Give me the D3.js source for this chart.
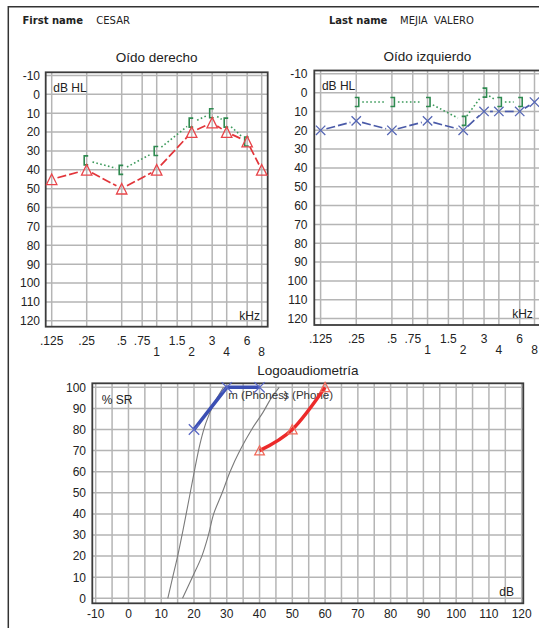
<!DOCTYPE html>
<html>
<head>
<meta charset="utf-8">
<script src="https://cdn.jsdelivr.net/npm/d3@7"></script>
<style>
  body { margin: 0; background: #fff; }
  svg { display: block; }
</style>
</head>
<body>
<div id="chart"></div>
<script>
// ── Data ─────────────────────────────────────────────────────────────────
const freqs = [0.125, 0.25, 0.5, 0.75, 1, 1.5, 2, 3, 4, 6, 8]
const freqLabels = ['.125', '.25', '.5', '.75', '1', '1.5', '2', '3', '4', '6', '8']
const freqLowRow = [0, 0, 0, 0, 1, 0, 1, 0, 1, 0, 1]
const dbTicks = [-10, 0, 10, 20, 30, 40, 50, 60, 70, 80, 90, 100, 110, 120]

// [kHz, dB HL]
const rightAir = [[0.125, 45], [0.25, 40], [0.5, 50], [1, 40], [2, 20], [3, 15], [4, 20], [6, 25], [8, 40]]
const rightBone = [[0.25, 35], [0.5, 40], [1, 30], [2, 15], [3, 10], [4, 15], [6, 25]]
const leftAir = [[0.125, 20], [0.25, 15], [0.5, 20], [1, 15], [2, 20], [3, 10], [4, 10], [6, 10], [8, 5]]
const leftBone = [[0.25, 5], [0.5, 5], [1, 5], [2, 15], [3, 0], [4, 5], [6, 5]]

// speech audiometry [dB, % SR]
const srTicks = [0, 10, 20, 30, 40, 50, 60, 70, 80, 90, 100]
const speechDbTicks = [-10, 0, 10, 20, 30, 40, 50, 60, 70, 80, 90, 100, 110, 120]
const speechLeft = [[20, 80], [30, 100], [40, 100]]
const speechRight = [[40, 70], [50, 80], [60, 100]]
const normalPhones = [[12, 0], [13.5, 10], [15, 20], [16.6, 32], [18.6, 48], [20.2, 61], [21.8, 73], [23.6, 83], [26, 92], [29, 100]]
const normalPhone = [[16.5, 0], [19.5, 10], [22.4, 20], [24.4, 30], [26, 40], [28.6, 50], [31, 60], [34, 70], [37.6, 80], [41, 88], [43.6, 95], [46, 100]]

// ── Setup ────────────────────────────────────────────────────────────────
const W = 539, H = 628
const FONT = '"Liberation Sans", Arial, sans-serif'
const GRID = '#b5b5b5'
const FRAME = '#3c3c3c'
const TXT = '#222'

const svg = d3.select('#chart').append('svg')
  .attr('width', W).attr('height', H)
  .attr('viewBox', `0 0 ${W} ${H}`)

// page border
svg.append('path').attr('d', `M8.3,${H} L8.3,6.8 L${W},6.8`)
  .attr('fill', 'none').attr('stroke', '#333').attr('stroke-width', 1.5)

// header
const hdr = svg.append('g').style('font-family', '"DejaVu Sans", Verdana, sans-serif').style('font-size', '10px')
  .attr('fill', TXT)
hdr.append('text').attr('x', 22.5).attr('y', 24).style('font-weight', 'bold').text('First name')
hdr.append('text').attr('x', 96.3).attr('y', 24).text('CESAR')
hdr.append('text').attr('x', 329).attr('y', 24).style('font-weight', 'bold').text('Last name')
hdr.append('text').attr('x', 400).attr('y', 24).text('MEJIA\u00a0 VALERO')

// shorten a segment by r px on both ends
function shortSeg(x1, y1, x2, y2, r) {
  const dx = x2 - x1, dy = y2 - y1, L = Math.hypot(dx, dy)
  if (L <= 2 * r) return null
  const ux = dx / L, uy = dy / L
  return [x1 + ux * r, y1 + uy * r, x2 - ux * r, y2 - uy * r]
}

// ── Audiogram ────────────────────────────────────────────────────────────
function audiogram(cfg) {
  const g = svg.append('g').style('font-family', FONT)
  const x = d3.scaleLog().base(2).domain([0.125, 8]).range(cfg.xr)
  const y = d3.scaleLinear().domain([-10, 120]).range(cfg.yr)

  g.append('text').attr('x', (cfg.fx0 + cfg.fx1) / 2).attr('y', cfg.titleY)
    .attr('text-anchor', 'middle').style('font-size', '13.5px').attr('fill', TXT).text(cfg.title)

  // grid
  g.selectAll('.vg').data(freqs).join('line')
    .attr('x1', d => x(d)).attr('x2', d => x(d))
    .attr('y1', cfg.fy0).attr('y2', cfg.fy1)
    .attr('stroke', GRID).attr('stroke-width', 1.5)
  g.selectAll('.hg').data(dbTicks).join('line')
    .attr('x1', cfg.fx0).attr('x2', cfg.fx1)
    .attr('y1', d => y(d)).attr('y2', d => y(d))
    .attr('stroke', GRID).attr('stroke-width', 1.5)

  g.append('rect').attr('x', cfg.fx0).attr('y', cfg.fy0)
    .attr('width', cfg.fx1 - cfg.fx0).attr('height', cfg.fy1 - cfg.fy0)
    .attr('fill', 'none').attr('stroke', FRAME).attr('stroke-width', 1.8)

  // tick labels
  g.selectAll('.yl').data(dbTicks).join('text')
    .attr('x', cfg.labelX).attr('y', d => y(d)).attr('dy', '0.36em')
    .attr('text-anchor', 'end').style('font-size', '12px').attr('fill', TXT)
    .text(d => d)
  g.selectAll('.xl').data(freqs).join('text')
    .attr('x', d => x(d))
    .attr('y', (d, i) => cfg.fy1 + (freqLowRow[i] ? 29.3 : 18.3))
    .attr('text-anchor', 'middle').style('font-size', '12px').attr('fill', TXT)
    .text((d, i) => freqLabels[i])

  g.append('text').attr('x', cfg.fx0 + 7.6).attr('y', cfg.fy0 + 19.7)
    .style('font-size', '12px').attr('fill', TXT).text('dB HL')
  g.append('text').attr('x', cfg.fx1 - 7.7).attr('y', cfg.fy1 - 6.7)
    .attr('text-anchor', 'end').style('font-size', '12px').attr('fill', TXT).text('kHz')

  // bone conduction: dotted line + brackets
  const bone = cfg.bone
  for (let i = 0; i < bone.length - 1; i++) {
    const s = shortSeg(x(bone[i][0]), y(bone[i][1]), x(bone[i + 1][0]), y(bone[i + 1][1]), 6)
    if (!s) continue
    g.append('line').attr('x1', s[0]).attr('y1', s[1]).attr('x2', s[2]).attr('y2', s[3])
      .attr('stroke', '#3d9a5c').attr('stroke-width', 1.6).attr('stroke-dasharray', '1.6,2.4')
  }
  const side = cfg.boneSide // -1 = "[" (right ear), +1 = "]" (left ear)
  g.selectAll('.br').data(bone).join('path')
    .attr('d', d => {
      const cx = x(d[0]), cy = y(d[1])
      const vx = cx + side * 2.5, ax = cx - side * 1.5
      return `M${ax},${cy - 4.5} L${vx},${cy - 4.5} L${vx},${cy + 4.5} L${ax},${cy + 4.5}`
    })
    .attr('fill', 'none').attr('stroke', '#2f8a50').attr('stroke-width', 1.6)

  // air conduction: dashed line + markers
  const air = cfg.air
  for (let i = 0; i < air.length - 1; i++) {
    const s = shortSeg(x(air[i][0]), y(air[i][1]), x(air[i + 1][0]), y(air[i + 1][1]), 6)
    if (!s) continue
    g.append('line').attr('x1', s[0]).attr('y1', s[1]).attr('x2', s[2]).attr('y2', s[3])
      .attr('stroke', cfg.color).attr('stroke-width', 1.7).attr('stroke-dasharray', '9,3')
  }
  g.selectAll('.mk').data(air).join('path')
    .attr('d', d => {
      const cx = x(d[0]), cy = y(d[1])
      if (cfg.marker === 'tri') return `M${cx},${cy - 5.3} L${cx + 5.2},${cy + 5.3} L${cx - 5.2},${cy + 5.3} Z`
      return `M${cx - 4.7},${cy - 4.7} L${cx + 4.7},${cy + 4.7} M${cx - 4.7},${cy + 4.7} L${cx + 4.7},${cy - 4.7}`
    })
    .attr('fill', 'none').attr('stroke', cfg.markColor).attr('stroke-width', 1.3)
}

audiogram({
  title: 'Oído derecho', titleY: 62,
  fx0: 45.7, fx1: 267.7, fy0: 72.3, fy1: 326.7,
  xr: [51.7, 261.7], yr: [75.5, 320.8], labelX: 40,
  air: rightAir, bone: rightBone, boneSide: -1,
  color: '#e2353a', markColor: '#e8454a', marker: 'tri'
})
audiogram({
  title: 'Oído izquierdo', titleY: 61,
  fx0: 314.3, fx1: 540.5, fy0: 70.5, fy1: 325,
  xr: [320.6, 534.5], yr: [73.8, 318.6], labelX: 307.5,
  air: leftAir, bone: leftBone, boneSide: 1,
  color: '#4a5aa8', markColor: '#5566b4', marker: 'x'
})

// ── Logoaudiometría ──────────────────────────────────────────────────────
{
  const g = svg.append('g').style('font-family', FONT)
  const fx0 = 92.3, fx1 = 523.3, fy0 = 383.3, fy1 = 603.3
  const x = d3.scaleLinear().domain([-10, 120]).range([95.7, 521.7])
  const y = d3.scaleLinear().domain([0, 100]).range([598.3, 387.3])

  g.append('text').attr('x', (fx0 + fx1) / 2).attr('y', 374.5)
    .attr('text-anchor', 'middle').style('font-size', '13.5px').attr('fill', TXT).text('Logoaudiometría')

  g.selectAll('.vg').data(d3.range(-10, 121, 5)).join('line')
    .attr('x1', d => x(d)).attr('x2', d => x(d)).attr('y1', fy0).attr('y2', fy1)
    .attr('stroke', GRID).attr('stroke-width', 1.5)
  g.selectAll('.hg').data(srTicks).join('line')
    .attr('x1', fx0).attr('x2', fx1).attr('y1', d => y(d)).attr('y2', d => y(d))
    .attr('stroke', GRID).attr('stroke-width', 1.5)
  g.append('rect').attr('x', fx0).attr('y', fy0).attr('width', fx1 - fx0).attr('height', fy1 - fy0)
    .attr('fill', 'none').attr('stroke', FRAME).attr('stroke-width', 1.8)

  g.selectAll('.yl').data(srTicks).join('text')
    .attr('x', 86).attr('y', d => y(d)).attr('dy', '0.36em')
    .attr('text-anchor', 'end').style('font-size', '12px').attr('fill', TXT).text(d => d)
  g.selectAll('.xl').data(speechDbTicks).join('text')
    .attr('x', d => x(d)).attr('y', 618)
    .attr('text-anchor', 'middle').style('font-size', '12px').attr('fill', TXT).text(d => d)

  g.append('text').attr('x', 101.7).attr('y', 403.5).style('font-size', '12px').attr('fill', TXT).text('% SR')
  g.append('text').attr('x', 514).attr('y', 596).attr('text-anchor', 'end').style('font-size', '12px').attr('fill', TXT).text('dB')

  // normal reference curves
  const refLine = d3.line().x(d => x(d[0])).y(d => y(d[1])).curve(d3.curveCatmullRom)
  ;[normalPhones, normalPhone].forEach(c => {
    g.append('path').attr('d', refLine(c)).attr('fill', 'none').attr('stroke', '#7a7a7a').attr('stroke-width', 1.1)
  })

  g.append('text').attr('x', 228.3).attr('y', 399).style('font-size', '11.5px').attr('fill', '#333').text('m (Phones)')
  g.append('text').attr('x', 333).attr('y', 399).attr('text-anchor', 'end').style('font-size', '11.5px').attr('fill', '#333').text('s (Phone)')

  // speech curves
  g.append('path').attr('d', d3.line().x(d => x(d[0])).y(d => y(d[1]))(speechLeft))
    .attr('fill', 'none').attr('stroke', '#3b4fb3').attr('stroke-width', 3.6)
  g.selectAll('.bx').data(speechLeft).join('path')
    .attr('d', d => {
      const cx = x(d[0]), cy = y(d[1])
      return `M${cx - 5.2},${cy - 5.2} L${cx + 5.2},${cy + 5.2} M${cx - 5.2},${cy + 5.2} L${cx + 5.2},${cy - 5.2}`
    })
    .attr('fill', 'none').attr('stroke', '#5a68c4').attr('stroke-width', 1.3)

  g.append('path').attr('d', d3.line().x(d => x(d[0])).y(d => y(d[1])).curve(d3.curveCardinal)(speechRight))
    .attr('fill', 'none').attr('stroke', '#ec2a2a').attr('stroke-width', 3.4)
  g.selectAll('.rt').data(speechRight).join('path')
    .attr('d', d => {
      const cx = x(d[0]), cy = y(d[1])
      return `M${cx},${cy - 4.8} L${cx + 4.8},${cy + 4.3} L${cx - 4.8},${cy + 4.3} Z`
    })
    .attr('fill', 'none').attr('stroke', '#f06a5a').attr('stroke-width', 1.3)
}
</script>
</body>
</html>
